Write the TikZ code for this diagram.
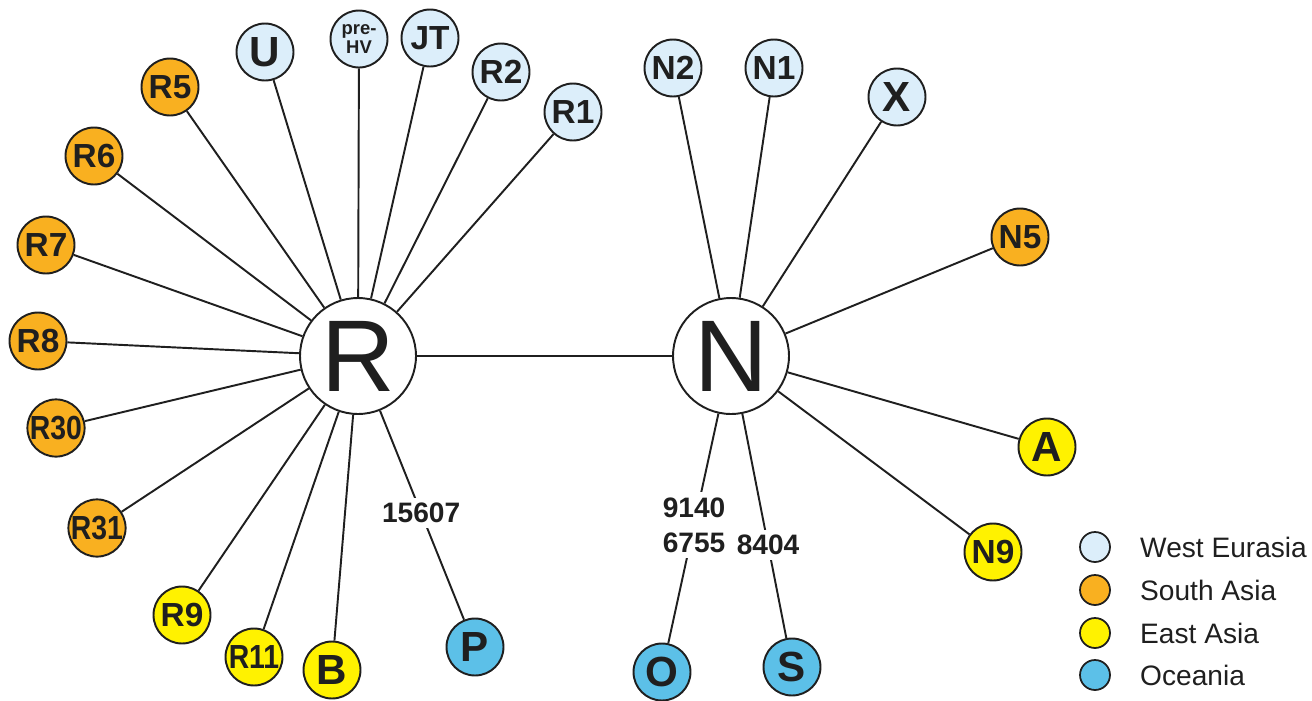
\documentclass[tikz,border=0pt]{standalone}
\usepackage{fontspec}
\setmainfont{Liberation Sans}
\usetikzlibrary{positioning}
\definecolor{westEurasia}{RGB}{220,238,250}
\definecolor{southAsia}{RGB}{249,176,32}
\definecolor{eastAsia}{RGB}{255,242,0}
\definecolor{oceania}{RGB}{92,192,232}
\colorlet{penColor}{black!88}
\tikzset{
  hapBig/.style={circle, draw=penColor, line width=1.1pt, fill=white, minimum size=2.32cm, inner sep=0pt, text=penColor, font=\fontsize{58}{58}\selectfont},
  hap/.style={circle, draw=penColor, line width=1.1pt, minimum size=1.14cm, inner sep=0pt, text=penColor, font=\fontsize{19}{19}\selectfont\bfseries},
  hapOne/.style={hap, font=\fontsize{24}{24}\selectfont\bfseries},
  link/.style={draw=penColor, line width=1.1pt},
  mutLabel/.style={fill=white, inner sep=3pt, align=center, text=penColor, font=\fontsize{16}{20}\selectfont\bfseries},
  legDot/.style={circle, draw=penColor, line width=1pt, minimum size=0.6cm, inner sep=0pt},
  legText/.style={inner sep=0pt, right=0.58cm of #1, text=penColor, font=\fontsize{16}{16}\selectfont}
}
\newcommand{\narrow}[1]{\scalebox{0.85}[1]{#1}}
\begin{document}
\begin{tikzpicture}[x=0.02cm, y=-0.02cm]
\useasboundingbox (0,0) rectangle (1312,700);
% hubs
\node[hapBig] (R) at (358,356) {R};
\node[hapBig] (N) at (731,356) {N};
% R branches
\node[hapOne, fill=westEurasia] (U) at (265,52) {U};
\node[hap, fill=westEurasia, font=\fontsize{10.5}{11}\selectfont\bfseries, align=center] (preHV) at (359,39) {pre-\\HV};
\node[hap, fill=westEurasia] (JT) at (430,38) {JT};
\node[hap, fill=westEurasia] (R2) at (501,72) {R2};
\node[hap, fill=westEurasia] (R1) at (573,112) {R1};
\node[hap, fill=southAsia] (R5) at (170,87) {R5};
\node[hap, fill=southAsia] (R6) at (94,156) {R6};
\node[hap, fill=southAsia] (R7) at (46,245) {R7};
\node[hap, fill=southAsia] (R8) at (38,341) {R8};
\node[hap, fill=southAsia] (R30) at (56,428) {\narrow{R30}};
\node[hap, fill=southAsia] (R31) at (97,528) {\narrow{R31}};
\node[hap, fill=eastAsia] (R9) at (182,615) {R9};
\node[hap, fill=eastAsia] (R11) at (254,657) {\narrow{R11}};
\node[hapOne, fill=eastAsia] (B) at (332,670) {B};
\node[hapOne, fill=oceania] (P) at (475,647) {P};
% N branches
\node[hap, fill=westEurasia] (N2) at (673,68) {N2};
\node[hap, fill=westEurasia] (N1) at (774,68) {N1};
\node[hapOne, fill=westEurasia] (X) at (897,97) {X};
\node[hap, fill=southAsia] (N5) at (1020,237) {N5};
\node[hapOne, fill=eastAsia] (A) at (1047,447) {A};
\node[hap, fill=eastAsia] (N9) at (993,552) {N9};
\node[hapOne, fill=oceania] (O) at (662,672) {O};
\node[hapOne, fill=oceania] (S) at (792,667) {S};
% links
\draw[link] (R) -- (N);
\draw[link] (R) -- (U);
\draw[link] (R) -- (preHV);
\draw[link] (R) -- (JT);
\draw[link] (R) -- (R2);
\draw[link] (R) -- (R1);
\draw[link] (R) -- (R5);
\draw[link] (R) -- (R6);
\draw[link] (R) -- (R7);
\draw[link] (R) -- (R8);
\draw[link] (R) -- (R30);
\draw[link] (R) -- (R31);
\draw[link] (R) -- (R9);
\draw[link] (R) -- (R11);
\draw[link] (R) -- (B);
\draw[link] (R) -- node[mutLabel, pos=0.49] {15607} (P);
\draw[link] (N) -- (N2);
\draw[link] (N) -- (N1);
\draw[link] (N) -- (X);
\draw[link] (N) -- (N5);
\draw[link] (N) -- (A);
\draw[link] (N) -- (N9);
\draw[link] (N) -- node[mutLabel, pos=0.486] {9140\\6755} (O);
\draw[link] (N) -- node[mutLabel, pos=0.586] {8404} (S);
% legend
\node[legDot, fill=westEurasia] (lgWest) at (1095,547) {};
\node[legDot, fill=southAsia] (lgSouth) at (1095,590) {};
\node[legDot, fill=eastAsia] (lgEast) at (1095,633) {};
\node[legDot, fill=oceania] (lgOcean) at (1095,675) {};
\node[legText=lgWest] (txWest) {West Eurasia};
\node[legText=lgSouth] (txSouth) {South Asia};
\node[legText=lgEast] (txEast) {East Asia};
\node[legText=lgOcean] (txOcean) {Oceania};
\end{tikzpicture}
\end{document}
